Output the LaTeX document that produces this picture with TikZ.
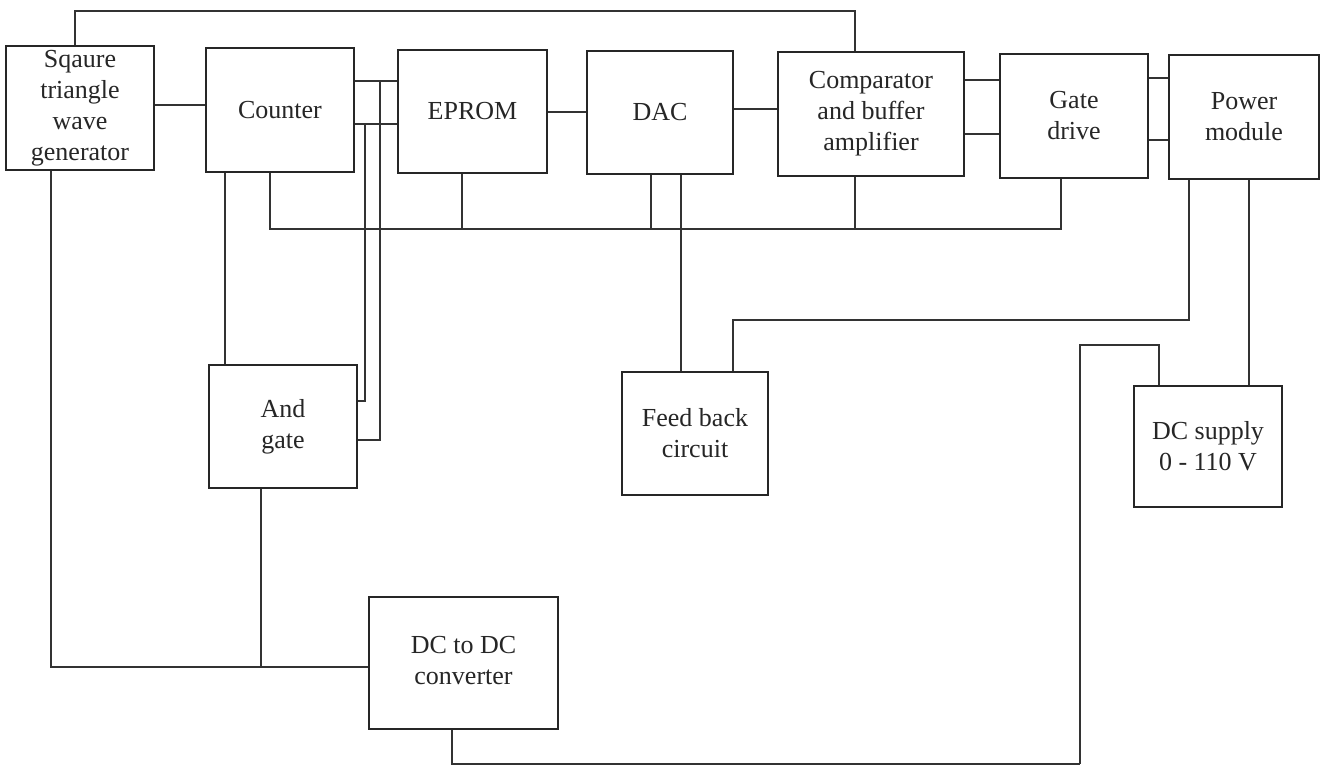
\documentclass[tikz,border=0pt]{standalone}
\usepackage{fontspec}
\setmainfont{Liberation Serif}
\begin{document}
\begin{tikzpicture}[x=1pt,y=-1pt,
  blk/.style={draw=black!85, line width=1.6pt, rectangle, align=center,
    inner sep=0pt, font=\fontsize{26}{31}\selectfont, text=black!85},
  wire/.style={draw=black!80, line width=1.1pt}]
\useasboundingbox[fill=white] (0,0) rectangle (1325,766);

% blocks of the controller
\node[blk, minimum width=148pt, minimum height=124pt] (sq)   at (80,108)    {Sqaure\\triangle\\wave\\generator};
\node[blk, minimum width=148pt, minimum height=124pt] (cnt)  at (280,110)   {Counter};
\node[blk, minimum width=149pt, minimum height=123pt] (epr)  at (472.5,111.5) {EPROM};
\node[blk, minimum width=146pt, minimum height=123pt] (dac)  at (660,112.5) {DAC};
\node[blk, minimum width=186pt, minimum height=124pt] (cmp)  at (871,114)   {Comparator\\and buffer\\amplifier};
\node[blk, minimum width=148pt, minimum height=124pt] (gd)   at (1074,116)  {Gate\\drive};
\node[blk, minimum width=150pt, minimum height=124pt] (pm)   at (1244,117)  {Power\\module};
\node[blk, minimum width=148pt, minimum height=123pt] (andg) at (283,426.5) {And\\gate};
\node[blk, minimum width=146pt, minimum height=123pt] (fb)   at (695,433.5) {Feed back\\circuit};
\node[blk, minimum width=148pt, minimum height=121pt] (dcs)  at (1208,446.5) {DC supply\\0 - 110 V};
\node[blk, minimum width=189pt, minimum height=132pt] (dcdc) at (463.5,663)
  {\raisebox{-5pt}{\begin{tabular}{@{}c@{}}DC to DC\\converter\end{tabular}}};

\coordinate (foot) at (1080,764);

% signal path along the top row
\draw[wire] (75,0 |- sq.north) -- (75,11) -- (855,11) -- (855,0 |- cmp.north);
\draw[wire] (sq.east |- 0,105) -- (cnt.west |- 0,105);
\draw[wire] (cnt.east |- 0,81) -- (epr.west |- 0,81);
\draw[wire] (cnt.east |- 0,124) -- (epr.west |- 0,124);
\draw[wire] (epr.east |- 0,112) -- (dac.west |- 0,112);
\draw[wire] (dac.east |- 0,109) -- (cmp.west |- 0,109);
\draw[wire] (cmp.east |- 0,80) -- (gd.west |- 0,80);
\draw[wire] (cmp.east |- 0,134) -- (gd.west |- 0,134);
\draw[wire] (gd.east |- 0,78) -- (pm.west |- 0,78);
\draw[wire] (gd.east |- 0,140) -- (pm.west |- 0,140);

% and gate inputs taken from the counter outputs
\draw[wire] (380,81) -- (380,440) -- (andg.east |- 0,440);
\draw[wire] (365,124) -- (365,401) -- (andg.east |- 0,401);
\draw[wire] (225,0 |- cnt.south) -- (225,0 |- andg.north);

% common bus under the top row
\draw[wire] (270,0 |- cnt.south) -- (270,229) -- (1061,229) -- (1061,0 |- gd.south);
\draw[wire] (462,0 |- epr.south) -- (462,229);
\draw[wire] (651,0 |- dac.south) -- (651,229);
\draw[wire] (855,0 |- cmp.south) -- (855,229);

% feedback loop
\draw[wire] (681,0 |- dac.south) -- (681,0 |- fb.north);
\draw[wire] (1189,0 |- pm.south) -- (1189,320) -- (733,320) -- (733,0 |- fb.north);

% supply side
\draw[wire] (1249,0 |- pm.south) -- (1249,0 |- dcs.north);
\draw[wire] (1159,0 |- dcs.north) -- (1159,345) -- (1080,345) -- (foot);
\draw[wire] (452,0 |- dcdc.south) -- (452,0 |- foot) -- (foot);

% converter feeding the generator and the and gate
\draw[wire] (51,0 |- sq.south) -- (51,667) -- (dcdc.west |- 0,667);
\draw[wire] (261,0 |- andg.south) -- (261,667);
\end{tikzpicture}
\end{document}
